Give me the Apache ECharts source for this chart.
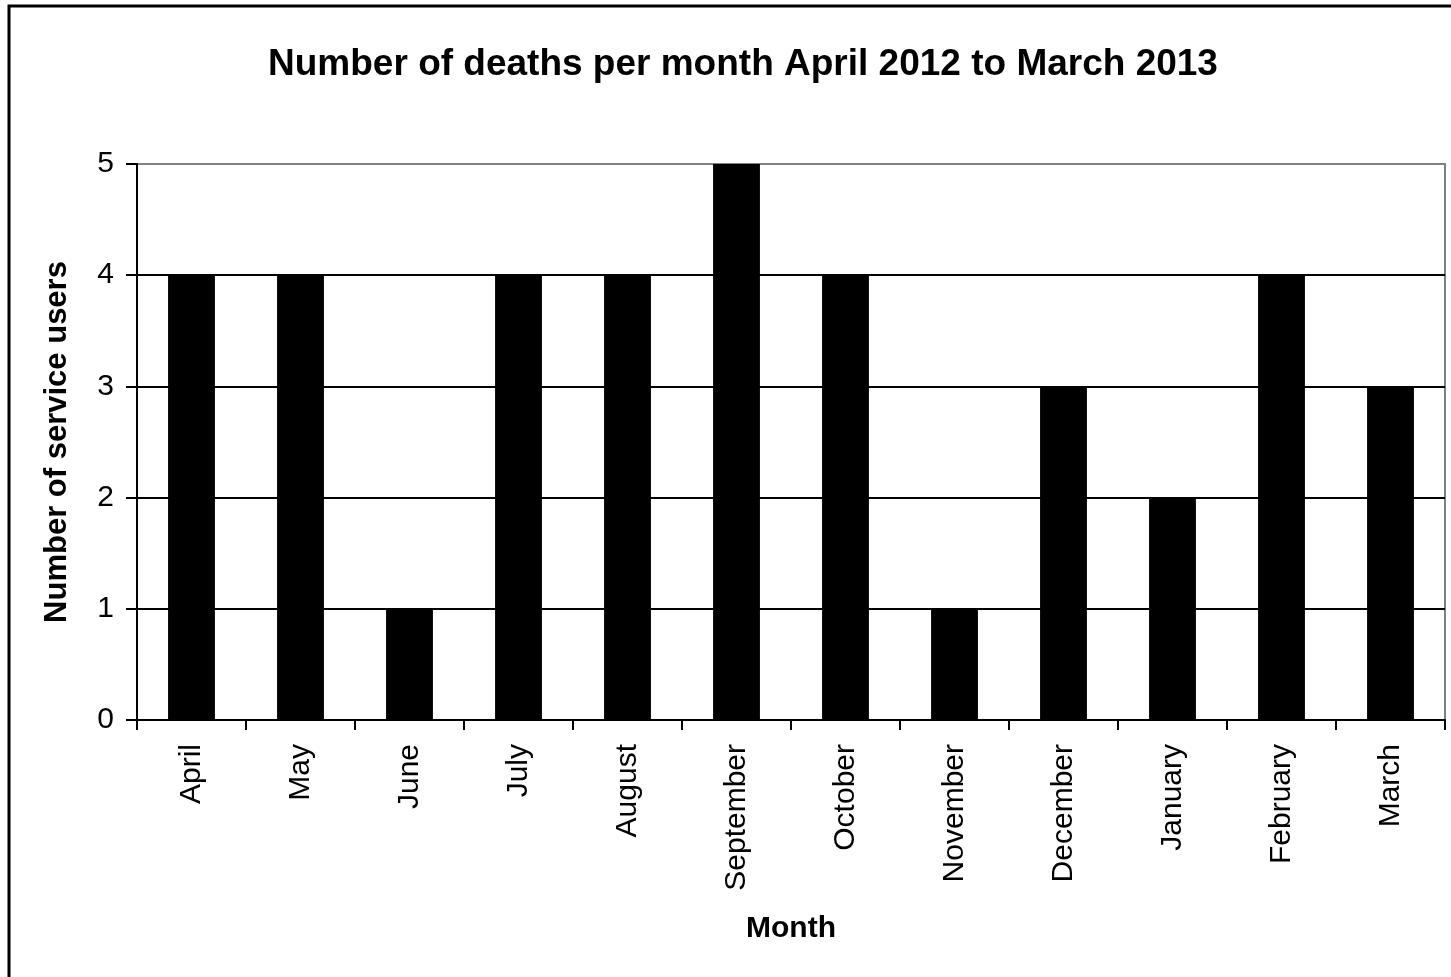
<!DOCTYPE html>
<html>
<head>
<meta charset="utf-8">
<script src="https://cdn.jsdelivr.net/npm/echarts@6/dist/echarts.min.js"></script>
<style>
  html, body { margin: 0; padding: 0; background: #fff; }
  #chart { width: 1451px; height: 977px; }
</style>
</head>
<body>
<div id="chart"></div>
<script>
const months = ['April', 'May', 'June', 'July', 'August', 'September', 'October',
    'November', 'December', 'January', 'February', 'March'];
const deaths = [4, 4, 1, 4, 4, 5, 4, 1, 3, 2, 4, 3];

const chart = echarts.init(document.getElementById('chart'));
const font = '"Liberation Sans", Arial, sans-serif';

chart.setOption({
    backgroundColor: '#fff',
    animation: false,
    title: {
        text: 'Number of deaths per month April 2012 to March 2013',
        left: 738,
        textAlign: 'center',
        top: 41,
        textStyle: { fontFamily: font, fontSize: 37, fontWeight: 'bold', color: '#000' }
    },
    // cadre extérieur du graphique
    graphic: [{
        type: 'rect',
        shape: { x: 9, y: 6, width: 1460, height: 990 },
        style: { fill: 'none', stroke: '#000', lineWidth: 3 },
        z: 0
    }],
    grid: {
        left: 137, right: 6, top: 164, bottom: 257,
        show: true,
        borderColor: '#808080',
        borderWidth: 2
    },
    xAxis: {
        type: 'category',
        data: months,
        name: 'Month',
        nameLocation: 'middle',
        nameGap: 194,
        nameTextStyle: { fontFamily: font, fontSize: 30, fontWeight: 'bold', color: '#000' },
        axisLine: { lineStyle: { color: '#000', width: 2 } },
        axisTick: { show: true, length: 10, lineStyle: { color: '#000', width: 2 } },
        axisLabel: {
            rotate: 90,
            margin: 24,
            fontFamily: font, fontSize: 30, color: '#000'
        }
    },
    yAxis: {
        type: 'value',
        min: 0, max: 5, interval: 1,
        name: 'Number of service users',
        nameLocation: 'middle',
        nameGap: 64,
        nameTextStyle: { fontFamily: font, fontSize: 31, fontWeight: 'bold', color: '#000' },
        axisLine: { show: true, lineStyle: { color: '#000', width: 2 } },
        axisTick: { show: true, length: 11, lineStyle: { color: '#000', width: 2 } },
        axisLabel: { margin: 23, fontFamily: font, fontSize: 30, color: '#000' },
        splitLine: {
            lineStyle: { color: ['#000', '#000', '#000', '#000', '#000', '#808080'], width: 2 }
        }
    },
    series: [{
        type: 'bar',
        data: deaths,
        barWidth: '43%',
        itemStyle: { color: '#000' }
    }]
});
</script>
</body>
</html>
